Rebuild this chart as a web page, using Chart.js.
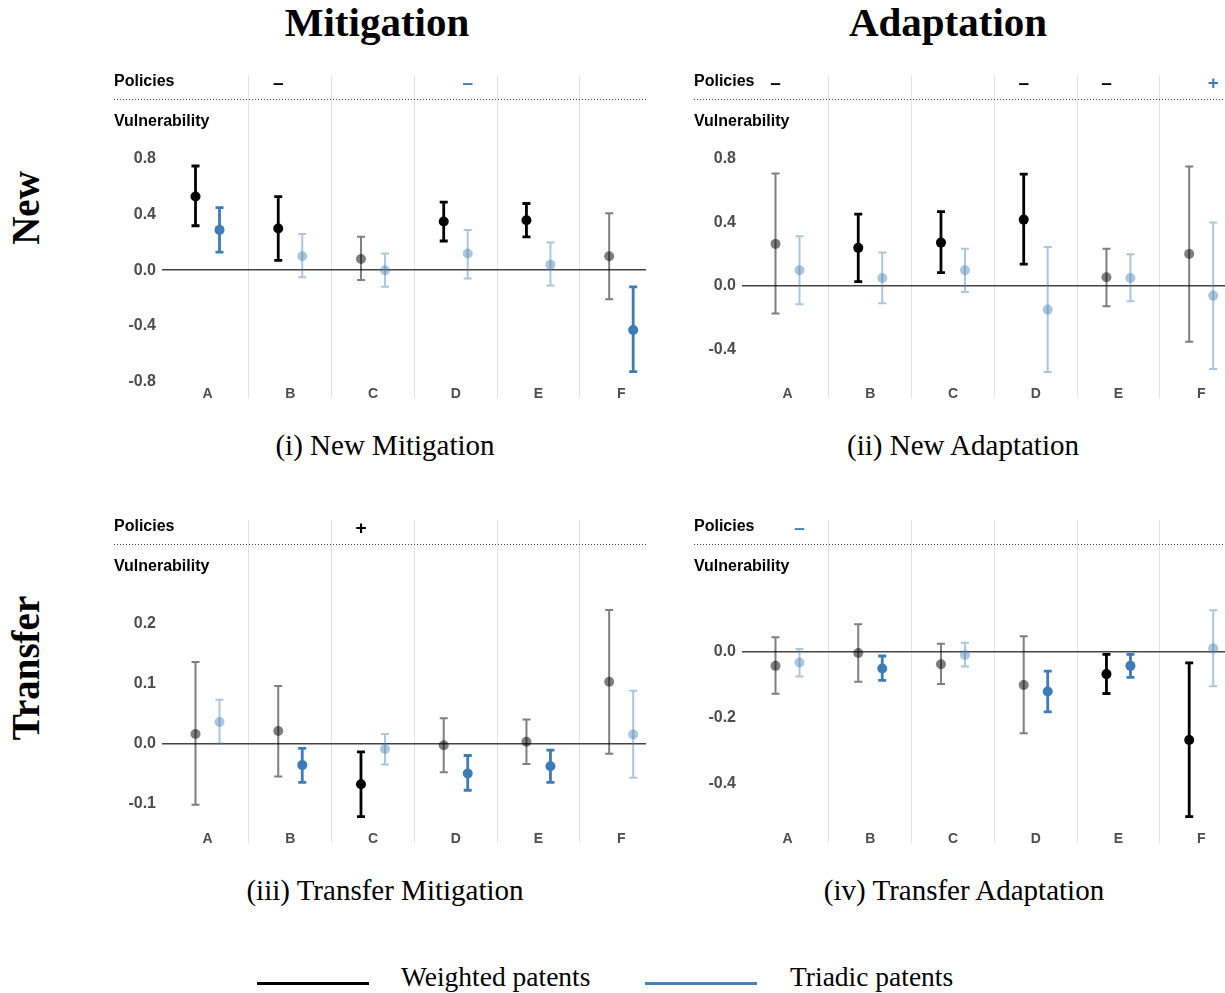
<!DOCTYPE html>
<html>
<head>
<meta charset="utf-8">
<script src="https://cdn.jsdelivr.net/npm/chart.js@4.4.1/dist/chart.umd.min.js"></script>
<style>
  body { margin: 0; width: 1225px; height: 993px; overflow: hidden; background: #fff; position: relative; font-family: "Liberation Serif", serif; }
  canvas { position: absolute; }
  .c { position: absolute; transform: translate(-50%, -50%); white-space: nowrap; color: #000; line-height: 1; }
  .head { font-weight: bold; font-size: 41px; }
  .row { font-weight: bold; font-size: 39px; transform: translate(-50%, -50%) rotate(-90deg); }
  .cap { font-size: 29px; }
  .leg { position: absolute; font-size: 27.5px; line-height: 1; transform: translateY(-50%); white-space: nowrap; }
  .swatch { position: absolute; height: 3px; width: 112px; }
</style>
</head>
<body>
<div class="c head" style="left:377px;top:22px">Mitigation</div>
<div class="c head" style="left:948px;top:22px">Adaptation</div>
<div class="c row" style="left:25px;top:208px">New</div>
<div class="c row" style="left:25px;top:668px">Transfer</div>

<canvas id="newMit" width="546" height="338" style="left:100px;top:60px"></canvas>
<canvas id="newAda" width="546" height="338" style="left:680px;top:60px"></canvas>
<canvas id="trMit" width="546" height="338" style="left:100px;top:505px"></canvas>
<canvas id="trAda" width="546" height="338" style="left:680px;top:505px"></canvas>

<div class="c cap" style="left:385px;top:445px">(i) New Mitigation</div>
<div class="c cap" style="left:963px;top:445px">(ii) New Adaptation</div>
<div class="c cap" style="left:385px;top:890px">(iii) Transfer Mitigation</div>
<div class="c cap" style="left:964px;top:890px">(iv) Transfer Adaptation</div>

<div class="swatch" style="left:257px;top:982px;background:#000"></div>
<div class="leg" style="left:401px;top:977px">Weighted patents</div>
<div class="swatch" style="left:645px;top:982px;background:#4682b4"></div>
<div class="leg" style="left:790px;top:977px">Triadic patents</div>

<script>
const categories = ['A', 'B', 'C', 'D', 'E', 'F'];

// (i) New Mitigation
const newMitW      = [0.53, 0.30, 0.08, 0.35, 0.36, 0.10];
const newMitWLo    = [0.32, 0.07, -0.07, 0.21, 0.24, -0.21];
const newMitWHi    = [0.75, 0.53, 0.24, 0.49, 0.48, 0.41];
const newMitWSig   = [1, 1, 0, 1, 1, 0];
const newMitT      = [0.29, 0.10, 0.00, 0.12, 0.04, -0.43];
const newMitTLo    = [0.13, -0.05, -0.12, -0.06, -0.11, -0.73];
const newMitTHi    = [0.45, 0.26, 0.12, 0.29, 0.20, -0.12];
const newMitTSig   = [1, 0, 0, 0, 0, 1];
const newMitWPol   = ['', '–', '', '', '', ''];
const newMitTPol   = ['', '', '', '–', '', ''];
const newMitTicks  = [0.8, 0.4, 0, -0.4, -0.8];

// (ii) New Adaptation
const newAdaW      = [0.265, 0.24, 0.273, 0.418, 0.055, 0.202];
const newAdaWLo    = [-0.174, 0.027, 0.084, 0.137, -0.128, -0.351];
const newAdaWHi    = [0.708, 0.452, 0.468, 0.704, 0.235, 0.752];
const newAdaWSig   = [0, 1, 1, 1, 0, 0];
const newAdaT      = [0.099, 0.05, 0.099, -0.149, 0.05, -0.061];
const newAdaTLo    = [-0.116, -0.109, -0.038, -0.542, -0.097, -0.523];
const newAdaTHi    = [0.313, 0.21, 0.235, 0.246, 0.2, 0.399];
const newAdaTSig   = [0, 0, 0, 0, 0, 0];
const newAdaWPol   = ['–', '', '', '–', '–', ''];
const newAdaTPol   = ['', '', '', '', '', '+'];
const newAdaTicks  = [0.8, 0.4, 0, -0.4];

// (iii) Transfer Mitigation
const trMitW       = [0.016, 0.021, -0.068, -0.003, 0.003, 0.103];
const trMitWLo     = [-0.102, -0.055, -0.122, -0.048, -0.034, -0.017];
const trMitWHi     = [0.136, 0.096, -0.014, 0.042, 0.040, 0.223];
const trMitWSig    = [0, 0, 1, 0, 0, 0];
const trMitT       = [0.036, -0.036, -0.009, -0.050, -0.038, 0.015];
const trMitTLo     = [0.000, -0.065, -0.035, -0.078, -0.065, -0.057];
const trMitTHi     = [0.073, -0.008, 0.016, -0.020, -0.011, 0.088];
const trMitTSig    = [0, 1, 0, 1, 1, 0];
const trMitWPol    = ['', '', '+', '', '', ''];
const trMitTPol    = ['', '', '', '', '', ''];
const trMitTicks   = [0.2, 0.1, 0, -0.1];

// (iv) Transfer Adaptation
const trAdaW       = [-0.042, -0.003, -0.037, -0.100, -0.067, -0.267];
const trAdaWLo     = [-0.127, -0.090, -0.097, -0.247, -0.126, -0.500];
const trAdaWHi     = [0.045, 0.084, 0.025, 0.048, -0.007, -0.033];
const trAdaWSig    = [0, 0, 0, 0, 1, 1];
const trAdaT       = [-0.032, -0.050, -0.009, -0.120, -0.042, 0.011];
const trAdaTLo     = [-0.074, -0.086, -0.044, -0.182, -0.077, -0.104];
const trAdaTHi     = [0.009, -0.012, 0.028, -0.058, -0.007, 0.127];
const trAdaTSig    = [0, 1, 0, 1, 1, 0];
const trAdaWPol    = ['', '', '', '', '', ''];
const trAdaTPol    = ['–', '', '', '', '', ''];
const trAdaTicks   = [0, -0.2, -0.4];

const SANS = '"Liberation Sans", Arial, sans-serif';
const BLACK = '#000000', BLACK_FAINT = 'rgba(0,0,0,0.5)';
const BLUE = '#3d7cb6', BLUE_FAINT = 'rgba(70,130,180,0.45)';
const DODGE = 0.145;

function makePanel(id, p) {
  const series = [
    { est: p.w, lo: p.wLo, hi: p.wHi, sig: p.wSig, pol: p.wPol, dx: -DODGE, strong: BLACK, faint: BLACK_FAINT },
    { est: p.t, lo: p.tLo, hi: p.tHi, sig: p.tSig, pol: p.tPol, dx: DODGE, strong: BLUE, faint: BLUE_FAINT }
  ];

  const extras = {
    id: 'extras',
    beforeDatasetsDraw(chart) {
      const { ctx, scales: { x, y } } = chart;
      ctx.save();
      series.forEach(s => {
        s.est.forEach((v, i) => {
          const px = x.getPixelForValue(i + s.dx);
          const top = y.getPixelForValue(s.hi[i]);
          const bot = y.getPixelForValue(s.lo[i]);
          ctx.strokeStyle = s.sig[i] ? s.strong : s.faint;
          ctx.lineWidth = s.sig[i] ? 2.8 : 2;
          ctx.beginPath();
          ctx.moveTo(px, top); ctx.lineTo(px, bot);
          ctx.moveTo(px - 4, top); ctx.lineTo(px + 4, top);
          ctx.moveTo(px - 4, bot); ctx.lineTo(px + 4, bot);
          ctx.stroke();
        });
      });
      ctx.restore();
    },
    afterDraw(chart) {
      const { ctx, chartArea: a, scales: { x } } = chart;
      ctx.save();
      ctx.fillStyle = '#000';
      ctx.font = 'bold 16px ' + SANS;
      ctx.textBaseline = 'middle';
      ctx.textAlign = 'left';
      ctx.fillText('Policies', 14, a.top + 7);
      ctx.fillText('Vulnerability', 14, a.top + 47);

      ctx.strokeStyle = '#444';
      ctx.lineWidth = 1;
      ctx.setLineDash([1, 2]);
      ctx.beginPath();
      ctx.moveTo(14, a.top + 24.5);
      ctx.lineTo(a.right, a.top + 24.5);
      ctx.stroke();
      ctx.setLineDash([]);

      ctx.textAlign = 'center';
      ctx.font = 'bold 19px ' + SANS;
      series.forEach(s => {
        s.pol.forEach((mark, i) => {
          if (!mark) return;
          ctx.fillStyle = s.strong;
          ctx.fillText(mark, x.getPixelForValue(i + s.dx), a.top + 9);
        });
      });
      ctx.restore();
    }
  };

  new Chart(document.getElementById(id), {
    type: 'scatter',
    data: {
      datasets: series.map(s => ({
        data: s.est.map((v, i) => ({ x: i + s.dx, y: v })),
        pointRadius: 5,
        pointHoverRadius: 5,
        pointBorderWidth: 0,
        pointBackgroundColor: s.sig.map(k => k ? s.strong : s.faint)
      }))
    },
    options: {
      responsive: false,
      animation: false,
      events: [],
      layout: { padding: { top: 15, left: 0, right: 0, bottom: 0 }, autoPadding: false },
      plugins: { legend: { display: false }, tooltip: { enabled: false } },
      scales: {
        x: {
          type: 'linear',
          min: -0.55,
          max: 5.3,
          afterBuildTicks: ax => { ax.ticks = categories.map((c, i) => ({ value: i })); },
          afterFit: ax => { ax.height = 0; ax.paddingLeft = 0; ax.paddingRight = 0; },
          ticks: {
            callback: v => categories[v],
            font: { family: SANS, size: 14, weight: 'bold' },
            color: '#4d4d4d',
            mirror: true,
            padding: -5,
            maxRotation: 0,
            autoSkip: false
          },
          grid: {
            offset: true,
            drawTicks: false,
            lineWidth: 1,
            color: c => c.index > 0 ? '#e3e3e3' : 'rgba(0,0,0,0)'
          },
          border: { display: false }
        },
        y: {
          min: p.yMin,
          max: p.yMax,
          afterBuildTicks: ax => { ax.ticks = p.ticks.map(v => ({ value: v })); },
          afterFit: ax => { ax.width = 62; ax.paddingTop = 0; ax.paddingBottom = 0; },
          ticks: {
            callback: v => v.toFixed(1),
            font: { family: SANS, size: 16, weight: 'bold' },
            color: '#4d4d4d',
            padding: 6
          },
          grid: {
            drawTicks: false,
            lineWidth: 1.5,
            color: c => c.tick && c.tick.value === 0 ? '#444' : 'rgba(0,0,0,0)'
          },
          border: { display: false }
        }
      }
    },
    plugins: [extras]
  });
}

makePanel('newMit', {
  w: newMitW, wLo: newMitWLo, wHi: newMitWHi, wSig: newMitWSig, wPol: newMitWPol,
  t: newMitT, tLo: newMitTLo, tHi: newMitTHi, tSig: newMitTSig, tPol: newMitTPol,
  ticks: newMitTicks, yMin: -0.92, yMax: 1.405
});
makePanel('newAda', {
  w: newAdaW, wLo: newAdaWLo, wHi: newAdaWHi, wSig: newAdaWSig, wPol: newAdaWPol,
  t: newAdaT, tLo: newAdaTLo, tHi: newAdaTHi, tSig: newAdaTSig, tPol: newAdaTPol,
  ticks: newAdaTicks, yMin: -0.706, yMax: 1.329
});
makePanel('trMit', {
  w: trMitW, wLo: trMitWLo, wHi: trMitWHi, wSig: trMitWSig, wPol: trMitWPol,
  t: trMitT, tLo: trMitTLo, tHi: trMitTHi, tSig: trMitTSig, tPol: trMitTPol,
  ticks: trMitTicks, yMin: -0.166, yMax: 0.373
});
makePanel('trAda', {
  w: trAdaW, wLo: trAdaWLo, wHi: trAdaWHi, wSig: trAdaWSig, wPol: trAdaWPol,
  t: trAdaT, tLo: trAdaTLo, tHi: trAdaTHi, tSig: trAdaTSig, tPol: trAdaTPol,
  ticks: trAdaTicks, yMin: -0.58, yMax: 0.401
});
</script>
</body>
</html>
